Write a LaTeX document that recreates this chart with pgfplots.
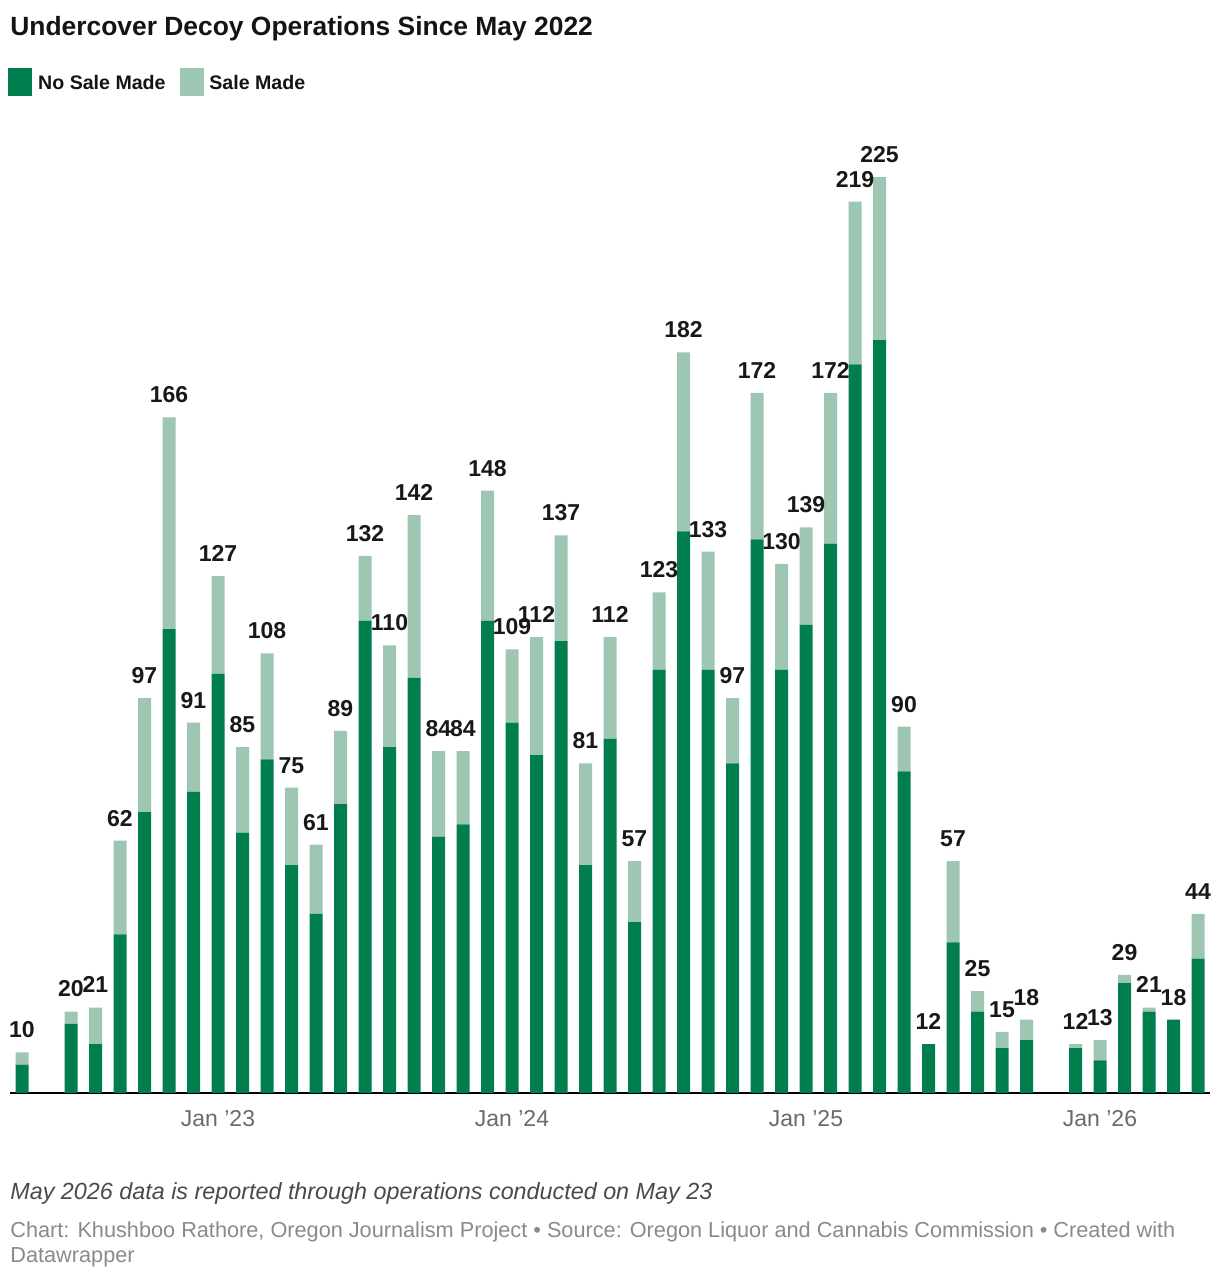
\documentclass[border=0pt]{standalone}
\usepackage{fontspec}
\setmainfont{Liberation Sans}
\usepackage{pgfplots}
\usepackage{pgfplotstable}
\pgfplotsset{compat=1.18}
\definecolor{nosale}{HTML}{007E4D}
\definecolor{sale}{HTML}{9EC7B3}
\definecolor{ticktext}{HTML}{6A6A6A}
\definecolor{notetext}{HTML}{4A4A4A}
\definecolor{srctext}{HTML}{8A8A8A}
\definecolor{lbltext}{HTML}{181818}

\pgfplotstableread{
x nosale sale total
0 7 3 10
2 17 3 20
3 12 9 21
4 39 23 62
5 69 28 97
6 114 52 166
7 74 17 91
8 103 24 127
9 64 21 85
10 82 26 108
11 56 19 75
12 44 17 61
13 71 18 89
14 116 16 132
15 85 25 110
16 102 40 142
17 63 21 84
18 66 18 84
19 116 32 148
20 91 18 109
21 83 29 112
22 111 26 137
23 56 25 81
24 87 25 112
25 42 15 57
26 104 19 123
27 138 44 182
28 104 29 133
29 81 16 97
30 136 36 172
31 104 26 130
32 115 24 139
33 135 37 172
34 179 40 219
35 185 40 225
36 79 11 90
37 12 0 12
38 37 20 57
39 20 5 25
40 11 4 15
41 13 5 18
43 11 1 12
44 8 5 13
45 27 2 29
46 20 1 21
47 18 0 18
48 33 11 44
}\data

\pgfplotsset{
  common/.style={
    at={(4.875pt,93.5pt)}, anchor=south west,
    scale only axis, width=600.25pt, height=468.05pt,
    xmin=-0.5, xmax=48.5, ymin=0, ymax=230,
    clip=false,
  }
}

\begin{document}
\begin{tikzpicture}
\path[use as bounding box] (0pt,0pt) rectangle (610pt,640pt);
% title
\node[anchor=base west, inner sep=0pt, font=\bfseries\fontsize{13.2}{15}\selectfont, text=black!92] at (5pt,622pt) {Undercover Decoy Operations Since May 2022};
% legend
\fill[nosale] (4pt,592pt) rectangle (16pt,606pt);
\node[anchor=base west, inner sep=0pt, font=\bfseries\fontsize{9.8}{12}\selectfont, text=black!92] at (18.9pt,595pt) {No Sale Made};
\fill[sale] (90pt,592pt) rectangle (102pt,606pt);
\node[anchor=base west, inner sep=0pt, font=\bfseries\fontsize{9.8}{12}\selectfont, text=black!92] at (104.5pt,595pt) {Sale Made};

\begin{axis}[
  common,
  ybar stacked, bar width=6.5pt,
  axis x line*=bottom, hide y axis,
  x axis line style={-, black, line width=1pt},
  xtick={8,20,32,44},
  xticklabels={Jan ’23, Jan ’24, Jan ’25, Jan ’26},
  major tick length=0pt,
  xticklabel style={font=\fontsize{11.5}{13}\selectfont, text=ticktext, anchor=base, yshift=-17pt},
]
\addplot[fill=nosale, draw=none] table[x=x,y=nosale]{\data};
\addplot[fill=sale, draw=none] table[x=x,y=sale]{\data};
\end{axis}

\begin{axis}[
  common,
  hide axis,
  /pgf/number format/assume math mode=true,
  nodes near coords style={font=\bfseries\fontsize{11.5}{13}\selectfont, text=lbltext, inner sep=0pt, anchor=base, yshift=7.3pt},
]
\addplot[only marks, mark=none, nodes near coords, point meta=explicit] table[x=x,y=total,meta=total]{\data};
\end{axis}

% footer
\node[anchor=base west, inner sep=0pt, font=\itshape\fontsize{11.67}{14}\selectfont, text=notetext] at (5pt,40pt) {May 2026 data is reported through operations conducted on May 23};
\node[anchor=base west, inner sep=0pt, font=\fontsize{10.85}{13}\selectfont, text=srctext] at (5pt,21pt) {Chart: Khushboo Rathore, Oregon Journalism Project • Source: Oregon Liquor and Cannabis Commission • Created with};
\node[anchor=base west, inner sep=0pt, font=\fontsize{10.85}{13}\selectfont, text=srctext] at (5pt,9pt) {Datawrapper};
\end{tikzpicture}
\end{document}
